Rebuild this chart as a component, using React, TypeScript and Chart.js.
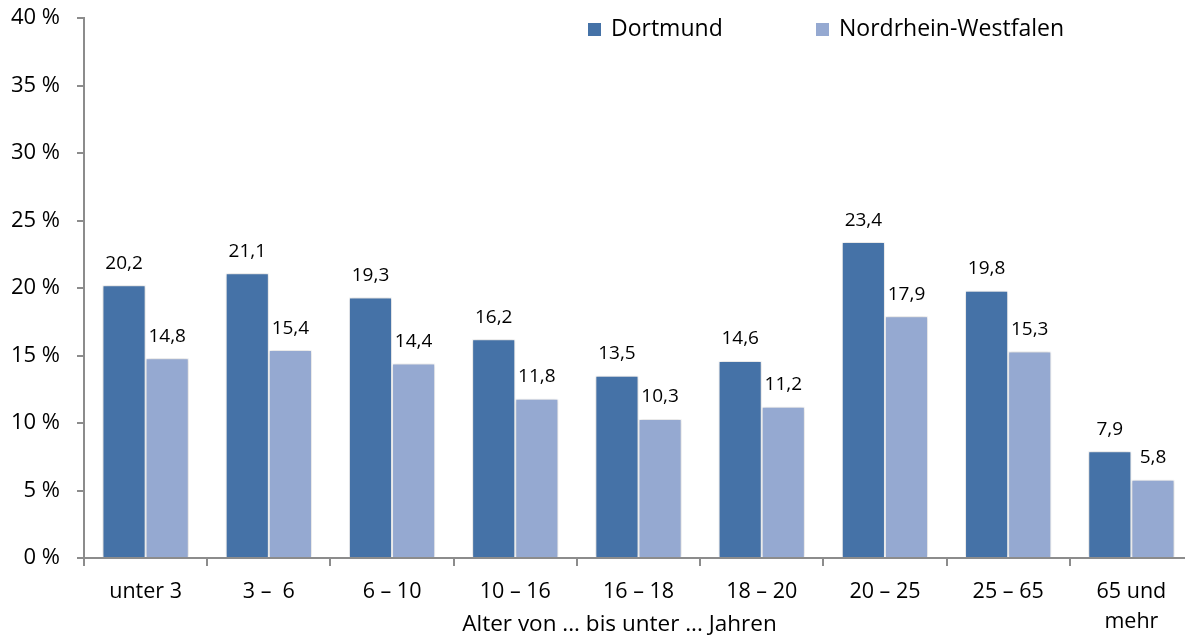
import React, { useEffect, useRef } from "react";
import { Chart, registerables } from "chart.js";

Chart.register(...registerables);

const categories: (string | string[])[] = [
  "unter 3",
  "3 –  6",
  "6 – 10",
  "10 – 16",
  "16 – 18",
  "18 – 20",
  "20 – 25",
  "25 – 65",
  ["65 und", "mehr"],
];
const dortmund = [20.2, 21.1, 19.3, 16.2, 13.5, 14.6, 23.4, 19.8, 7.9];
const nrw = [14.8, 15.4, 14.4, 11.8, 10.3, 11.2, 17.9, 15.3, 5.8];
const seriesNames = ["Dortmund", "Nordrhein-Westfalen"];
const seriesColors = ["#4572a7", "#95a9d1"];
const axisTitle = "Alter von ... bis unter ... Jahren";

const FONT = "'Open Sans', sans-serif";

const shadowPlugin = {
  id: "barShadow",
  beforeDatasetsDraw(chart: any) {
    const ctx = chart.ctx;
    ctx.save();
    ctx.shadowColor = "rgba(0,0,0,0.22)";
    ctx.shadowBlur = 4;
    ctx.shadowOffsetX = 0;
    ctx.shadowOffsetY = 0;
  },
  afterDatasetsDraw(chart: any) {
    chart.ctx.restore();
  },
};

const labelPlugin = {
  id: "valueLabels",
  afterDatasetsDraw(chart: any) {
    const ctx = chart.ctx;
    ctx.save();
    ctx.font = `19px ${FONT}`;
    ctx.fillStyle = "#000";
    ctx.textAlign = "center";
    ctx.textBaseline = "middle";
    chart.data.datasets.forEach((ds: any, i: number) => {
      const meta = chart.getDatasetMeta(i);
      meta.data.forEach((bar: any, j: number) => {
        const v = ds.data[j] as number;
        ctx.fillText(v.toFixed(1).replace(".", ","), bar.x, bar.y - 22);
      });
    });
    ctx.restore();
  },
};

const legendPlugin = {
  id: "customLegend",
  afterDraw(chart: any) {
    const ctx = chart.ctx;
    ctx.save();
    ctx.font = `23px ${FONT}`;
    ctx.textBaseline = "middle";
    ctx.textAlign = "left";
    const xs = [588, 816];
    const y = 29;
    chart.data.datasets.forEach((ds: any, i: number) => {
      ctx.fillStyle = ds.backgroundColor;
      ctx.fillRect(xs[i], y - 6, 13, 13);
      ctx.fillStyle = "#000";
      ctx.fillText(ds.label, xs[i] + 23, y);
    });
    ctx.restore();
  },
};

const titlePlugin = {
  id: "xTitle",
  afterDraw(chart: any) {
    const ctx = chart.ctx;
    const area = chart.chartArea;
    ctx.save();
    ctx.font = `22.5px ${FONT}`;
    ctx.fillStyle = "#000";
    ctx.textAlign = "center";
    ctx.textBaseline = "middle";
    ctx.fillText(axisTitle, (area.left + area.right) / 2 - 19, 625);
    ctx.restore();
  },
};

export default function App() {
  const ref = useRef<HTMLCanvasElement | null>(null);

  useEffect(() => {
    if (!ref.current) return;
    const chart = new Chart(ref.current, {
      type: "bar",
      data: {
        labels: categories as any,
        datasets: [
          {
            label: seriesNames[0],
            data: dortmund,
            backgroundColor: seriesColors[0],
            borderColor: "#ffffff",
            borderWidth: 1,
            categoryPercentage: 0.7,
            barPercentage: 1.0,
          },
          {
            label: seriesNames[1],
            data: nrw,
            backgroundColor: seriesColors[1],
            borderColor: "#ffffff",
            borderWidth: 1,
            categoryPercentage: 0.7,
            barPercentage: 1.0,
          },
        ],
      },
      options: {
        responsive: false,
        animation: false,
        devicePixelRatio: 1,
        layout: { padding: { top: 18, right: 0, left: 0, bottom: 0 } },
        plugins: {
          legend: { display: false },
          tooltip: { enabled: false },
          title: { display: false },
        },
        scales: {
          x: {
            grid: {
              offset: true,
              drawOnChartArea: false,
              drawTicks: true,
              tickLength: 8,
              color: "#8c8c8c",
              lineWidth: 2,
            },
            border: { color: "#8c8c8c", width: 2 },
            ticks: {
              color: "#000",
              font: { family: FONT, size: 21.5, lineHeight: 1.4 },
              padding: 11,
              maxRotation: 0,
              autoSkip: false,
            },
            afterFit: (s: any) => {
              s.height = 79;
              s.paddingLeft = 0;
              s.paddingRight = 0;
            },
          },
          y: {
            min: 0,
            max: 40,
            grid: {
              drawOnChartArea: false,
              drawTicks: true,
              tickLength: 7,
              color: "#8c8c8c",
              lineWidth: 2,
            },
            border: { color: "#8c8c8c", width: 2 },
            ticks: {
              stepSize: 5,
              color: "#000",
              font: { family: FONT, size: 22 },
              padding: 17,
              callback: (v: any) => `${v} %`,
            },
            afterFit: (s: any) => {
              s.width = 84;
              s.paddingTop = 0;
              s.paddingBottom = 0;
            },
          },
        },
      },
      plugins: [shadowPlugin, labelPlugin, legendPlugin, titlePlugin],
    });
    return () => chart.destroy();
  }, []);

  return (
    <div
      style={{
        position: "fixed",
        left: 0,
        top: 0,
        width: 1185,
        height: 637,
        overflow: "hidden",
        background: "#fff",
      }}
    >
      <canvas ref={ref} width={1193} height={637} style={{ display: "block" }} />
    </div>
  );
}
